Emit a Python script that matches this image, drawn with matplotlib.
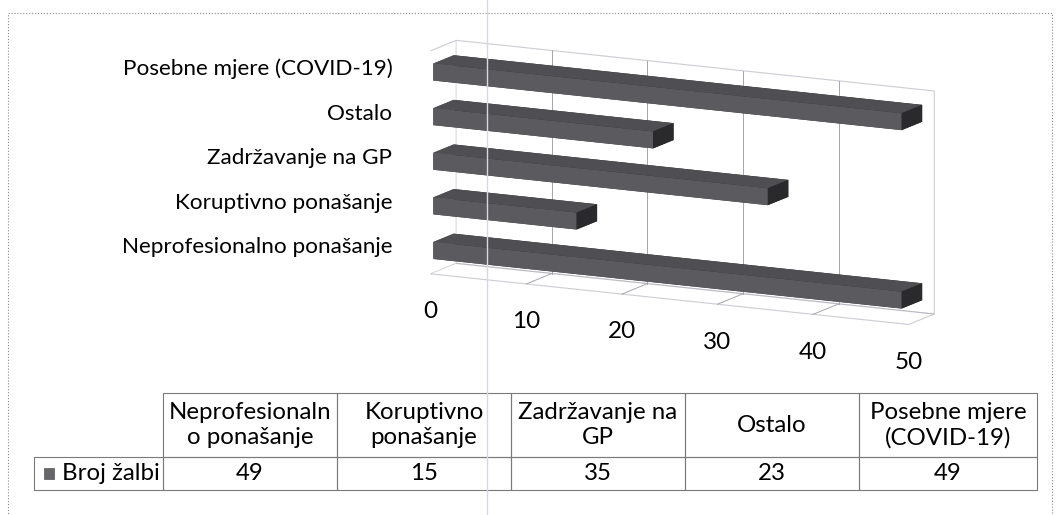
import matplotlib
matplotlib.use("Agg")
import matplotlib.pyplot as plt
from matplotlib.patches import Rectangle
from matplotlib.lines import Line2D

categories = ["Neprofesionalno ponašanje", "Koruptivno ponašanje",
              "Zadržavanje na GP", "Ostalo", "Posebne mjere (COVID-19)"]
values = [49, 15, 35, 23, 49]
table_headers = ["Neprofesionaln\no ponašanje", "Koruptivno\nponašanje",
                 "Zadržavanje na\nGP", "Ostalo", "Posebne mjere\n(COVID-19)"]
series_name = "Broj žalbi"
value_ticks = [0, 10, 20, 30, 40, 50]

plt.rcParams["font.family"] = ["Lato", "DejaVu Sans"]
FS_CAT = 16.2
FS_TICK = 17.5
FS_TAB = 17.3

fig = plt.figure(figsize=(10.56, 5.15), dpi=100)

# ---------------- 3D bar chart ----------------
ax = fig.add_axes([0.331, 0.235, 0.62, 0.80], projection="3d")
ax.patch.set_alpha(0)
ax.set_proj_type("ortho")
ax.view_init(elev=12, azim=-63)

zmin, zmax = -0.5, 4.5
ax.set_xlim(0, 50)
ax.set_ylim(0, 1)
ax.set_zlim(zmin, zmax)
ax.set_autoscale_on(False)
ax.set_box_aspect((10, 1.05, 4.25), zoom=1.38)

bar_color = "#66666c"
depth_lo, depth_hi = 0.1, 0.9
bar_h = 0.38
for i, v in enumerate(values):
    col = ax.bar3d(0, depth_lo, i - bar_h / 2, v, depth_hi - depth_lo, bar_h,
                   color=bar_color, shade=True, edgecolor="none")
    col.set_clip_on(False)
ax.set_xlim(0, 50)
ax.set_ylim(0, 1)
ax.set_zlim(zmin, zmax)

ax.set_xticks([])
ax.set_yticks([])
ax.set_zticks([])
for axis in (ax.xaxis, ax.yaxis, ax.zaxis):
    axis.pane.set_facecolor((1, 1, 1, 0))
    axis.pane.set_edgecolor("#9a9aa8")
    axis.pane.set_linewidth(0.8)
    axis.pane.set_clip_on(False)
    axis.line.set_color((0, 0, 0, 0))

# gridlines on back wall and floor
grid_kw = dict(color="#a4a4b4", lw=0.7, zorder=0, clip_on=False)
for v in value_ticks[1:-1]:
    ax.plot([v, v], [1, 1], [zmin, zmax], **grid_kw)
    ax.plot([v, v], [0, 1], [zmin, zmin], **grid_kw)

for i, c in enumerate(categories):
    ax.text(-4.0, 0, i, c, ha="right", va="center", fontsize=FS_CAT)
for v in value_ticks:
    ax.text(v, 0, zmin - 0.85, str(v), ha="center", va="center", fontsize=FS_TICK)

# ---------------- data table ----------------
tax = fig.add_axes([34 / 1056, 25 / 515, 1003 / 1056, 97 / 515])
tax.axis("off")
cell_text = [[""] + table_headers, [""] + [str(v) for v in values]]
tbl = tax.table(cellText=cell_text, cellLoc="center", bbox=[0, 0, 1, 1])
tbl.auto_set_font_size(False)
col_w = [129, 174, 174, 174, 174, 178]
row_h = [64, 33]
for (r, c), cell in tbl.get_celld().items():
    cell.set_width(col_w[c])
    cell.set_height(row_h[r])
    cell.set_edgecolor("#7a7a7a")
    cell.set_linewidth(0.8)
    cell.set_facecolor("none")
    cell.get_text().set_fontsize(FS_TAB)
    cell.get_text().set_linespacing(1.25)
    if r == 0 and c == 0:
        cell.visible_edges = ""
# legend key + series name in the row-label cell
tax.add_patch(Rectangle((10 / 1003, 11 / 97), 10 / 1003, 11 / 97,
                        transform=tax.transAxes, facecolor=bar_color,
                        edgecolor="#555555", lw=0.5, zorder=5))
tax.text(28 / 1003, 16.5 / 97, series_name, transform=tax.transAxes,
         ha="left", va="center", fontsize=FS_TAB, zorder=5)

# outer frame
fig.patches.append(Rectangle((8 / 1056, -0.01), 1044 / 1056, 1 - 13 / 515 + 0.01,
                             transform=fig.transFigure, fill=False,
                             ec="#8a8a8a", lw=0.8, ls=":"))
# faint scan line
fig.add_artist(Line2D([487 / 1056, 487 / 1056], [0, 1], transform=fig.transFigure,
                      color="#d8d8e4", lw=1.0, zorder=10))

fig.savefig("out.png", dpi=100)
